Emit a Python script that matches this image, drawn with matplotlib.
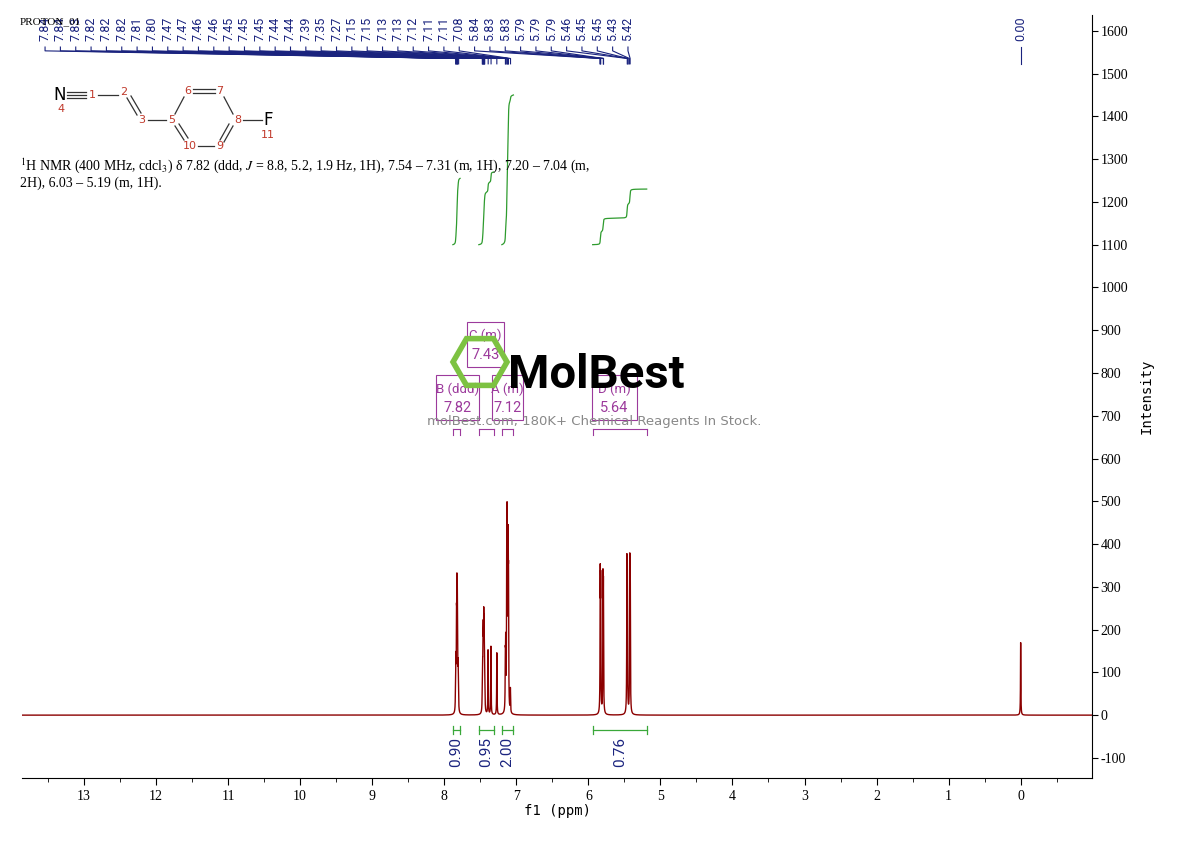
import numpy as np
import matplotlib
matplotlib.use("Agg")
import matplotlib.pyplot as plt
from matplotlib.patches import Rectangle, RegularPolygon
import matplotlib.transforms as mtrans

plt.rcParams['mathtext.fontset'] = 'stix'

# ---- data ----
line_ppm = [7.843, 7.838, 7.830, 7.825, 7.820, 7.816, 7.808, 7.803,
            7.472, 7.467, 7.462, 7.458, 7.452, 7.448, 7.444, 7.440, 7.436,
            7.392, 7.352, 7.270,
            7.152, 7.147, 7.133, 7.128, 7.122, 7.113, 7.108, 7.082,
            5.835, 5.829, 5.797, 5.791,
            5.465, 5.459, 5.425, 5.419,
            0.000]
line_amp = [50, 100, 170, 220, 205, 160, 85, 45,
            40, 75, 110, 135, 160, 125, 100, 60, 35,
            150, 160, 145,
            110, 140, 320, 350, 290, 340, 250, 55,
            300, 280, 290, 270,
            320, 300, 320, 310,
            170]
peak_labels = ["7.84", "7.84", "7.83", "7.82", "7.82", "7.82", "7.81", "7.80",
               "7.47", "7.47", "7.46", "7.46", "7.45", "7.45", "7.45", "7.44", "7.44",
               "7.39", "7.35", "7.27", "7.15", "7.15", "7.13", "7.13", "7.12",
               "7.11", "7.11", "7.08", "5.84", "5.83", "5.83", "5.79", "5.79", "5.79",
               "5.46", "5.45", "5.45", "5.43", "5.42"]
peak_label_pos = [7.84, 7.84, 7.83, 7.82, 7.82, 7.82, 7.81, 7.80,
                  7.47, 7.47, 7.46, 7.46, 7.45, 7.45, 7.45, 7.44, 7.44,
                  7.39, 7.35, 7.27, 7.15, 7.15, 7.13, 7.13, 7.12,
                  7.11, 7.11, 7.08, 5.84, 5.83, 5.83, 5.79, 5.79, 5.79,
                  5.46, 5.45, 5.45, 5.43, 5.42]
integ_ranges = [(7.88, 7.78), (7.52, 7.31), (7.20, 7.04), (5.94, 5.19)]
integ_values = ["0.90", "0.95", "2.00", "0.76"]
integ_top = [1255, 1270, 1450, 1230]
multiplets = [("B (ddd)", "7.82"), ("C (m)", "7.43"), ("A (m)", "7.12"), ("D (m)", "5.64")]
mult_ranges = [(7.88, 7.78), (7.52, 7.31), (7.20, 7.04), (5.94, 5.19)]
yticks = [-100, 0, 100, 200, 300, 400, 500, 600, 700, 800, 900, 1000, 1100, 1200, 1300, 1400, 1500, 1600]
xticks = list(range(0, 14))

# ---- spectrum ----
x = np.linspace(13.86, -0.99, 40000)
w = 0.0028
y = np.zeros_like(x)
for p, a in zip(line_ppm, line_amp):
    y += a * w**2 / ((x - p)**2 + w**2)

fig = plt.figure(figsize=(11.9, 8.41), dpi=100)
ax = fig.add_axes([22/1190, 1 - 778/841, (1092-22)/1190, (778-15)/841])
ax.plot(x, y, color='#8B0000', lw=1.0)
ax.set_xlim(13.86, -0.99)
ax.set_ylim(-147, 1637)
for s in ['top', 'left']:
    ax.spines[s].set_visible(False)
ax.yaxis.tick_right()
ax.yaxis.set_label_position('right')
ax.set_yticks(yticks)
ax.set_yticklabels([str(v) for v in yticks], fontsize=10, fontfamily='Liberation Serif')
ax.tick_params(axis='y', direction='out', length=4, pad=2)
ax.set_xticks(xticks)
ax.set_xticklabels([str(v) for v in xticks], fontsize=10, fontfamily='Liberation Serif')
ax.set_xticks(np.arange(-0.5, 13.6, 0.5), minor=True)
ax.tick_params(axis='x', direction='out', length=5)
ax.tick_params(axis='x', which='minor', length=3)
ax.set_xlabel("f1 (ppm)", fontsize=10, fontfamily='DejaVu Sans Mono', labelpad=1)
ax.set_ylabel("Intensity", fontsize=10, fontfamily='DejaVu Sans Mono', labelpad=8)

navy = '#1a237e'
fam = ['Roboto', 'DejaVu Sans']
# peak labels at top
bt = mtrans.blended_transform_factory(ax.transData, ax.transAxes)
lab_x = np.linspace(13.54, 5.45, len(peak_labels))
for lx, lp, t in zip(lab_x, peak_label_pos, peak_labels):
    ax.text(lx, 0.998, t, rotation=90, ha='center', va='top', fontsize=9,
            color=navy, transform=bt, fontfamily=fam)
    ax.plot([lx, lx, lp, lp], [0.958, 0.953, 0.943, 0.936], color=navy, lw=0.8,
            transform=bt, clip_on=False)
ax.text(0.0, 0.998, "0.00", rotation=90, ha='center', va='top', fontsize=9,
        color=navy, transform=bt, fontfamily=fam)
ax.plot([0, 0], [0.958, 0.936], color=navy, lw=0.8, transform=bt)

# integral curves
for (a, b), top in zip(integ_ranges, integ_top):
    m = (x <= a) & (x >= b)
    c = np.cumsum(y[m])
    c = 1100 + (top - 1100) * c / c[-1]
    ax.plot(x[m], c, color='#2e9b2e', lw=0.9)
    ax.plot([a, b], [-35, -35], color='#3aa83a', lw=0.9)
    ax.plot([a, a], [-45, -25], color='#3aa83a', lw=0.9)
    ax.plot([b, b], [-45, -25], color='#3aa83a', lw=0.9)
for (a, b), v in zip(integ_ranges, integ_values):
    xm = (a + b) / 2
    ax.text(xm, -52, v, rotation=90, ha='center', va='top', fontsize=11,
            color=navy, fontfamily=fam)

# multiplet boxes
purple = '#9c3a9c'
box_pos = [(7.82, 690), (7.43, 815), (7.12, 690), (5.64, 690)]
box_w = [0.6, 0.52, 0.44, 0.62]
for (name, val), (bx, by), (a, b), bw in zip(multiplets, box_pos, mult_ranges, box_w):
    ax.text(bx, by + 72, name, ha='center', va='center', fontsize=9.5, color=purple,
            fontfamily=fam)
    ax.text(bx, by + 27, val, ha='center', va='center', fontsize=10.5, color=purple,
            fontfamily=fam)
    ax.add_patch(Rectangle((bx - bw/2, by), bw, 105, fill=False, ec=purple, lw=0.8))
    ax.plot([a, b], [670, 670], color=purple, lw=0.8)
    ax.plot([a, a], [670, 655], color=purple, lw=0.8)
    ax.plot([b, b], [670, 655], color=purple, lw=0.8)

# overlay for structure, text, watermark (pixel coords)
ov = fig.add_axes([0, 0, 1, 1], facecolor='none')
ov.set_xlim(0, 1190); ov.set_ylim(841, 0); ov.axis('off')
ov.text(20, 22, "PROTON_01", fontsize=8, fontfamily='Liberation Serif', va='center')
k = '#333333'; red = '#c0392b'
ov.text(60, 95, "N", fontsize=12, va='center', ha='center')
ov.text(61, 104, "4", fontsize=8, color=red, ha='center', va='top')
for dy in (-3, 0, 3):
    ov.plot([67, 86], [95 + dy, 95 + dy], color=k, lw=0.9)
ov.text(92, 95, "1", fontsize=8, color=red, ha='center', va='center')
ov.plot([98, 118], [95, 95], color=k, lw=0.9)
ov.text(124, 92, "2", fontsize=8, color=red, ha='center', va='center')
ov.plot([127, 137], [98, 115], color=k, lw=0.9)
ov.plot([131, 141], [96, 113], color=k, lw=0.9)
ov.text(142, 120, "3", fontsize=8, color=red, ha='center', va='center')
ov.plot([148, 166], [120, 120], color=k, lw=0.9)
ov.text(172, 120, "5", fontsize=8, color=red, ha='center', va='center')
ov.plot([175, 184], [114, 97], color=k, lw=0.9)
ov.text(188, 91, "6", fontsize=8, color=red, ha='center', va='center')
ov.plot([193, 215], [89, 89], color=k, lw=0.9); ov.plot([193, 215], [93, 93], color=k, lw=0.9)
ov.text(220, 91, "7", fontsize=8, color=red, ha='center', va='center')
ov.plot([224, 233], [97, 114], color=k, lw=0.9)
ov.text(238, 120, "8", fontsize=8, color=red, ha='center', va='center')
ov.plot([243, 262], [120, 120], color=k, lw=0.9)
ov.text(268, 120, "F", fontsize=12, ha='center', va='center')
ov.text(268, 130, "11", fontsize=8, color=red, ha='center', va='top')
ov.plot([233, 224], [126, 142], color=k, lw=0.9); ov.plot([229, 220], [124, 140], color=k, lw=0.9)
ov.text(220, 146, "9", fontsize=8, color=red, ha='center', va='center')
ov.plot([198, 214], [146, 146], color=k, lw=0.9)
ov.text(190, 146, "10", fontsize=8, color=red, ha='center', va='center')
ov.plot([175, 184], [126, 140], color=k, lw=0.9); ov.plot([179, 188], [124, 138], color=k, lw=0.9)

ov.text(20, 166, r"$^{1}$H NMR (400 MHz, cdcl$_{3}$) δ 7.82 (ddd, $J$ = 8.8, 5.2, 1.9 Hz, 1H), 7.54 – 7.31 (m, 1H), 7.20 – 7.04 (m,",
        fontsize=10, fontfamily='Liberation Serif', va='center')
ov.text(20, 183, "2H), 6.03 – 5.19 (m, 1H).", fontsize=10, fontfamily='Liberation Serif', va='center')

# watermark
ov.add_patch(RegularPolygon((480, 362), 6, radius=27, orientation=np.pi/6, fill=False,
                            ec='#7dc242', lw=4))
ov.text(508, 375, "MolBest", fontsize=34, fontfamily='Roboto', fontweight='bold',
        va='center', ha='left', color='black')
ov.text(594, 421, "molBest.com, 180K+ Chemical Reagents In Stock.", fontsize=9.5,
        color='#888888', ha='center', va='center')

fig.savefig("out.png", dpi=100)
